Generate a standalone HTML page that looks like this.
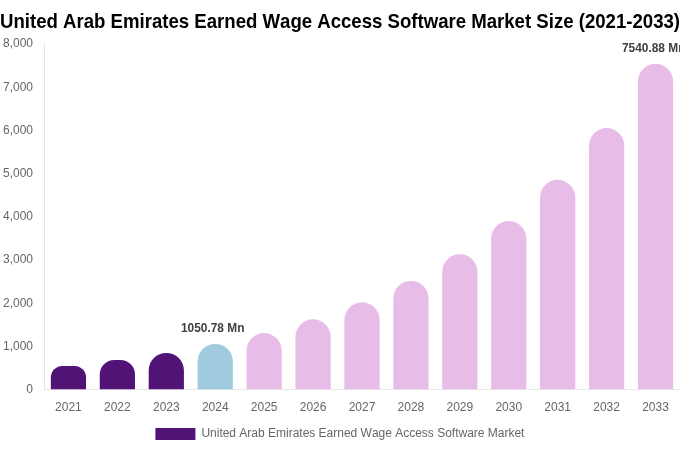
<!DOCTYPE html>
<html><head><meta charset="utf-8"><title>Chart</title>
<style>
html,body{margin:0;padding:0;background:#fff;}
body{width:680px;height:450px;overflow:hidden;font-family:"Liberation Sans",sans-serif;}
svg{display:block;}
text{font-family:"Liberation Sans",sans-serif;font-kerning:none;}
.t{font-size:20px;font-weight:bold;fill:#000;}
.k{font-size:12px;fill:#666;}
.d{font-size:12px;font-weight:bold;fill:#404040;}
</style></head><body>
<svg width="680" height="450" viewBox="0 0 680 450">
<rect width="680" height="450" fill="#fff"/>
<text class="t" transform="translate(340,27.7) scale(0.9307,1)" text-anchor="middle" textLength="730.66" lengthAdjust="spacing">United Arab Emirates Earned Wage Access Software Market Size (2021-2033)</text>
<rect x="44" y="44" width="1" height="346" fill="#000" fill-opacity="0.1"/>
<rect x="44" y="389" width="636" height="1" fill="#000" fill-opacity="0.085"/>
<text class="k" x="33" y="393" text-anchor="end">0</text>
<text class="k" x="33" y="350" text-anchor="end">1,000</text>
<text class="k" x="33" y="307" text-anchor="end">2,000</text>
<text class="k" x="33" y="263" text-anchor="end">3,000</text>
<text class="k" x="33" y="220" text-anchor="end">4,000</text>
<text class="k" x="33" y="177" text-anchor="end">5,000</text>
<text class="k" x="33" y="134" text-anchor="end">6,000</text>
<text class="k" x="33" y="91" text-anchor="end">7,000</text>
<text class="k" x="33" y="47" text-anchor="end">8,000</text>
<path d="M50.85,389.30 L50.85,377.62 A11.68,11.68 0 0 1 62.52,365.95 L74.40,365.95 A11.68,11.68 0 0 1 86.07,377.62 L86.07,389.30 Z" fill="#521376"/>
<text class="k" x="68.46" y="411" text-anchor="middle">2021</text>
<path d="M99.77,389.30 L99.77,374.69 A14.61,14.61 0 0 1 114.38,360.08 L120.39,360.08 A14.61,14.61 0 0 1 135.00,374.69 L135.00,389.30 Z" fill="#521376"/>
<text class="k" x="117.38" y="411" text-anchor="middle">2022</text>
<path d="M148.70,389.30 L148.70,370.51 A17.61,17.61 0 0 1 166.31,352.90 L166.31,352.90 A17.61,17.61 0 0 1 183.92,370.51 L183.92,389.30 Z" fill="#521376"/>
<text class="k" x="166.31" y="411" text-anchor="middle">2023</text>
<path d="M197.62,389.30 L197.62,361.56 A17.61,17.61 0 0 1 215.23,343.95 L215.23,343.95 A17.61,17.61 0 0 1 232.84,361.56 L232.84,389.30 Z" fill="#A0CADE"/>
<text class="k" x="215.23" y="411" text-anchor="middle">2024</text>
<text class="d" x="181" y="332.05" textLength="63.4" lengthAdjust="spacingAndGlyphs">1050.78 Mn</text>
<path d="M246.54,389.30 L246.54,350.66 A17.61,17.61 0 0 1 264.15,333.04 L264.15,333.04 A17.61,17.61 0 0 1 281.77,350.66 L281.77,389.30 Z" fill="#E7BCE7"/>
<text class="k" x="264.15" y="411" text-anchor="middle">2025</text>
<path d="M295.46,389.30 L295.46,336.93 A17.61,17.61 0 0 1 313.08,319.32 L313.08,319.32 A17.61,17.61 0 0 1 330.69,336.93 L330.69,389.30 Z" fill="#E7BCE7"/>
<text class="k" x="313.08" y="411" text-anchor="middle">2026</text>
<path d="M344.39,389.30 L344.39,319.93 A17.61,17.61 0 0 1 362.00,302.32 L362.00,302.32 A17.61,17.61 0 0 1 379.61,319.93 L379.61,389.30 Z" fill="#E7BCE7"/>
<text class="k" x="362.00" y="411" text-anchor="middle">2027</text>
<path d="M393.31,389.30 L393.31,298.51 A17.61,17.61 0 0 1 410.92,280.90 L410.92,280.90 A17.61,17.61 0 0 1 428.54,298.51 L428.54,389.30 Z" fill="#E7BCE7"/>
<text class="k" x="410.92" y="411" text-anchor="middle">2028</text>
<path d="M442.23,389.30 L442.23,271.85 A17.61,17.61 0 0 1 459.85,254.24 L459.85,254.24 A17.61,17.61 0 0 1 477.46,271.85 L477.46,389.30 Z" fill="#E7BCE7"/>
<text class="k" x="459.85" y="411" text-anchor="middle">2029</text>
<path d="M491.16,389.30 L491.16,238.67 A17.61,17.61 0 0 1 508.77,221.06 L508.77,221.06 A17.61,17.61 0 0 1 526.38,238.67 L526.38,389.30 Z" fill="#E7BCE7"/>
<text class="k" x="508.77" y="411" text-anchor="middle">2030</text>
<path d="M540.08,389.30 L540.08,197.46 A17.61,17.61 0 0 1 557.69,179.85 L557.69,179.85 A17.61,17.61 0 0 1 575.30,197.46 L575.30,389.30 Z" fill="#E7BCE7"/>
<text class="k" x="557.69" y="411" text-anchor="middle">2031</text>
<path d="M589.00,389.30 L589.00,145.69 A17.61,17.61 0 0 1 606.62,128.08 L606.62,128.08 A17.61,17.61 0 0 1 624.23,145.69 L624.23,389.30 Z" fill="#E7BCE7"/>
<text class="k" x="606.62" y="411" text-anchor="middle">2032</text>
<path d="M637.93,389.30 L637.93,81.43 A17.61,17.61 0 0 1 655.54,63.82 L655.54,63.82 A17.61,17.61 0 0 1 673.15,81.43 L673.15,389.30 Z" fill="#E7BCE7"/>
<text class="k" x="655.54" y="411" text-anchor="middle">2033</text>
<text class="d" x="622" y="51.92" textLength="63.4" lengthAdjust="spacingAndGlyphs">7540.88 Mn</text>
<rect x="155.4" y="428" width="40" height="12" fill="#521376"/>
<text class="k" x="201.4" y="437" textLength="323.02" lengthAdjust="spacing">United Arab Emirates Earned Wage Access Software Market</text>
</svg></body></html>
